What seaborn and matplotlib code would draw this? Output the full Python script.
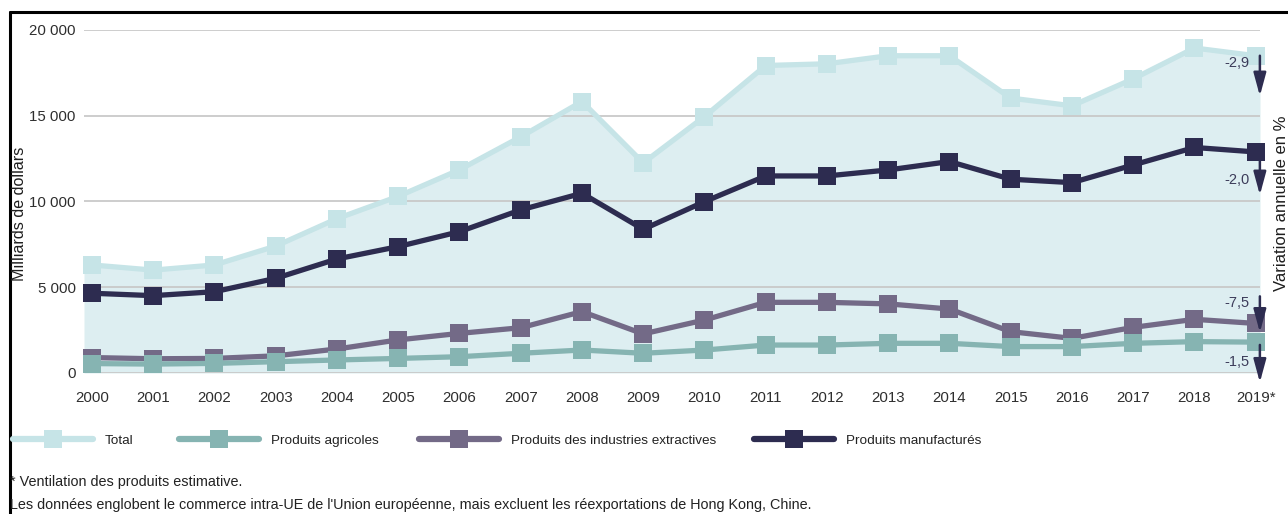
import numpy as np
import pandas as pd
import matplotlib
matplotlib.use("Agg")
import matplotlib.pyplot as plt
from matplotlib import font_manager
from matplotlib.lines import Line2D
from matplotlib.transforms import offset_copy
import seaborn as sns

# ---- data (milliards de dollars) ----
years = list(range(2000, 2020))
year_labels = [str(y) for y in years[:-1]] + ["2019*"]
total = [6300, 6000, 6300, 7400, 9000, 10300, 11850, 13770, 15830, 12250,
         14950, 17930, 18030, 18500, 18500, 16030, 15580, 17150, 18950, 18500]
agricoles = [550, 520, 560, 660, 760, 850, 950, 1150, 1340, 1150,
             1340, 1630, 1630, 1730, 1730, 1540, 1540, 1730, 1830, 1800]
extractives = [900, 830, 850, 1000, 1400, 1930, 2310, 2640, 3580, 2280,
               3090, 4120, 4120, 4030, 3730, 2410, 2020, 2660, 3130, 2890]
manufactures = [4650, 4510, 4740, 5520, 6650, 7370, 8240, 9510, 10480, 8380,
                9990, 11490, 11490, 11840, 12330, 11300, 11100, 12130, 13150, 12890]
series_names = ["Total", "Produits agricoles",
                "Produits des industries extractives", "Produits manufacturés"]
variation_labels = ["-2,9", "-1,5", "-7,5", "-2,0"]
y_ticks = [0, 5000, 10000, 15000, 20000]
y_tick_labels = ["0", "5 000", "10 000", "15 000", "20 000"]

colors = {
    "Total": "#c6e4e7",
    "Produits agricoles": "#86b4b2",
    "Produits des industries extractives": "#736a87",
    "Produits manufacturés": "#2d2c50",
}
fill_color = "#ddeef1"
arrow_color = "#2d2c50"
text_color = "#2e2e2e"

sns.set_theme(style="white")
installed = {f.name for f in font_manager.fontManager.ttflist}
base_font = "Liberation Sans"
narrow_font = "Liberation Sans Narrow" if "Liberation Sans Narrow" in installed else base_font
plt.rcParams["font.family"] = [base_font, "DejaVu Sans"]
plt.rcParams["axes.axisbelow"] = "line"

W, H, DPI = 1288, 514, 100
fig = plt.figure(figsize=(W / DPI, H / DPI), dpi=DPI)
ax = fig.add_axes([84 / W, (H - 373) / H, (1260 - 84) / W, (373 - 30) / H])

x = np.arange(len(years))
df = pd.DataFrame({"x": x, "Total": total, "Produits agricoles": agricoles,
                   "Produits des industries extractives": extractives,
                   "Produits manufacturés": manufactures})

x_lo, x_hi = -0.13, 19.07
ax.fill_between(np.r_[x_lo, x, x_hi], np.r_[total[0], total, total[-1]], 0,
                color=fill_color, lw=0, zorder=1)

draw_order = [("Total", 3), ("Produits des industries extractives", 4),
              ("Produits agricoles", 5), ("Produits manufacturés", 6)]
for name, z in draw_order:
    sns.lineplot(data=df, x="x", y=name, ax=ax, color=colors[name], lw=3.8,
                 marker="s", markersize=13, markeredgewidth=0,
                 zorder=z, clip_on=False, legend=False)

ax.set_xlim(x_lo, x_hi)
ax.set_ylim(0, 20000)
ax.set_yticks(y_ticks, y_tick_labels)
ax.set_xticks(x, year_labels)
ax.yaxis.grid(True, color="#c9c9c9", lw=1.3)
ax.xaxis.grid(False)
for s in ax.spines.values():
    s.set_visible(False)
ax.tick_params(axis="y", length=0, pad=6, labelsize=10.8, labelcolor=text_color)
ax.tick_params(axis="x", length=0, pad=13, labelsize=10.8, labelcolor=text_color)
ax.set_xlabel("")
ax.set_ylabel("")

# annual change arrows at 2019
last = len(years) - 1
arrow_specs = [  # (value, label, arrow start pt, arrow end pt, label pt)  (+ = up)
    (total[-1], variation_labels[0], 0, -29, -5),
    (agricoles[-1], variation_labels[1], -2, -29, -14.5),
    (extractives[-1], variation_labels[2], 19.5, -6.5, 15),
    (manufactures[-1], variation_labels[3], 0, -31, -20),
]
for val, lab, y0, y1, yl in arrow_specs:
    t0 = offset_copy(ax.transData, fig=fig, x=3, y=y0, units="points")
    t1 = offset_copy(ax.transData, fig=fig, x=3, y=y1, units="points")
    ax.annotate("", xy=(last, val), xycoords=t1, xytext=(last, val), textcoords=t0,
                arrowprops=dict(arrowstyle="-|>,head_length=1.4,head_width=0.38",
                                color=arrow_color, lw=1.8, shrinkA=0, shrinkB=0),
                fontsize=10, zorder=8, annotation_clip=False)
    tl = offset_copy(ax.transData, fig=fig, x=-4.5, y=yl, units="points")
    ax.text(last, val, lab, transform=tl, ha="right", va="center",
            fontsize=10.5, color="#3c3c5a", zorder=8)

# axis titles
fig.text(20 / W, 1 - 214 / H, "Milliards de dollars", rotation=90,
         ha="center", va="center", fontsize=11.6, color="#1e1e1e")
fig.text(1281 / W, 1 - 203 / H, "Variation annuelle en %", rotation=90,
         ha="center", va="center", fontsize=12, color="#1e1e1e")

# legend, one entry per slot
legend_x = [13, 179, 419, 754]
fs_leg = 9.7
for name, xs in zip(series_names, legend_x):
    h = Line2D([], [], color=colors[name], lw=4.5, solid_capstyle="round",
               marker="s", markersize=12.5, markeredgewidth=0)
    fig.legend(handles=[h], labels=[name], loc="center left",
               bbox_to_anchor=(xs / W, 1 - 441 / H), frameon=False,
               borderpad=0, borderaxespad=0, handlelength=80 / (fs_leg * DPI / 72),
               handletextpad=12 / (fs_leg * DPI / 72), numpoints=1,
               prop={"family": [narrow_font, "DejaVu Sans"], "size": fs_leg},
               labelcolor="#222222")

# notes
fs_note = 10.35
fig.text(10 / W, 1 - 482 / H, "* Ventilation des produits estimative.",
         ha="left", va="center", fontsize=fs_note, family=[narrow_font, "DejaVu Sans"],
         color="#222222")
fig.text(10 / W, 1 - 505 / H,
         "Les données englobent le commerce intra-UE de l'Union européenne, "
         "mais excluent les réexportations de Hong Kong, Chine.",
         ha="left", va="center", fontsize=fs_note, family=[narrow_font, "DejaVu Sans"],
         color="#222222")

# frame lines (top and left)
fig.add_artist(Line2D([10 / W, 1], [1 - 12 / H, 1 - 12 / H], color="black", lw=2.2))
fig.add_artist(Line2D([10 / W, 10 / W], [0, 1 - 12 / H], color="black", lw=2.2))

fig.savefig("out.png", dpi=DPI)
